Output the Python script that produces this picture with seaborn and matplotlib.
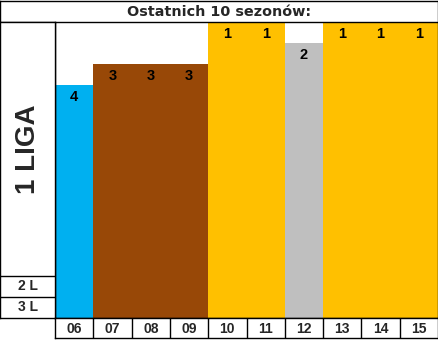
import matplotlib
matplotlib.use("Agg")
import matplotlib.pyplot as plt
import seaborn as sns
import pandas as pd

seasons = ["06", "07", "08", "09", "10", "11", "12", "13", "14", "15"]
places = [4, 3, 3, 3, 1, 1, 2, 1, 1, 1]
colors = ["#00B0F0", "#984807", "#984807", "#984807", "#FFC000", "#FFC000",
          "#BFBFBF", "#FFC000", "#FFC000", "#FFC000"]
league_labels = ["1 LIGA", "2 L", "3 L"]
title = "Ostatnich 10 sezonów:"
levels = 14  # 12 positions in 1 LIGA + 2 L + 3 L rows

sns.set_theme(style="white")
plt.rcParams['font.family'] = ['Liberation Sans', 'DejaVu Sans']

W, H = 439, 340
fig = plt.figure(figsize=(W / 100, H / 100), dpi=100)
fig.patch.set_facecolor("white")

def px(x0, y0, x1, y1):
    # pixel box (top-left origin) -> figure fraction
    return [x0 / W, 1 - y1 / H, (x1 - x0) / W, (y1 - y0) / H]

df = pd.DataFrame({"season": seasons,
                   "height": [levels + 1 - p for p in places],
                   "place": places})

# main bar area
ax = fig.add_axes(px(55, 22, 438, 318))
sns.barplot(data=df, x="season", y="height", hue="season", palette=colors,
            width=1.0, legend=False, ax=ax, saturation=1, linewidth=0)
ax.set_xlim(-0.5, len(seasons) - 0.5)
ax.set_ylim(0, levels)
ax.set_xticks([]); ax.set_yticks([])
ax.set_xlabel(""); ax.set_ylabel("")
for s in ["left", "right", "bottom"]:
    ax.spines[s].set_visible(True)
    ax.spines[s].set_color("black")
    ax.spines[s].set_linewidth(1)
ax.spines["top"].set_visible(False)
for i, (h, p) in enumerate(zip(df["height"], places)):
    ax.annotate(str(p), (i, h), xytext=(0, -3.5), textcoords="offset points",
                ha="center", va="top", fontsize=10.5, fontweight="bold", color="black")

# title box
axt = fig.add_axes(px(0.5, 0.5, 438, 22))
axt.set_xticks([]); axt.set_yticks([])
for s in axt.spines.values():
    s.set_color("black"); s.set_linewidth(1); s.set_visible(True)
axt.text(0.5, 0.45, title, ha="center", va="center", fontsize=10.4,
         fontweight="bold", family=["DejaVu Sans"], transform=axt.transAxes)

# left league panel
axl = fig.add_axes(px(0.5, 22, 55, 318))
axl.set_xlim(0, 1); axl.set_ylim(0, levels)
axl.set_xticks([]); axl.set_yticks([])
for s in axl.spines.values():
    s.set_color("black"); s.set_linewidth(1); s.set_visible(True)
axl.axhline(1, color="black", lw=1)
axl.axhline(2, color="black", lw=1)
axl.text(0.5, 8.0, league_labels[0], rotation=90, ha="center", va="center",
         fontsize=20, fontweight="bold")
axl.text(0.5, 1.5, league_labels[1], ha="center", va="center", fontsize=10, fontweight="bold")
axl.text(0.5, 0.5, league_labels[2], ha="center", va="center", fontsize=10, fontweight="bold")

# season label row
axs = fig.add_axes(px(55, 318, 438, 338))
axs.set_xlim(-0.5, len(seasons) - 0.5); axs.set_ylim(0, 1)
axs.set_xticks([]); axs.set_yticks([])
for s in axs.spines.values():
    s.set_color("black"); s.set_linewidth(1); s.set_visible(True)
for i, s in enumerate(seasons):
    axs.text(i, 0.45, s, ha="center", va="center", fontsize=10, fontweight="bold")
    if i > 0:
        axs.axvline(i - 0.5, color="black", lw=1)

fig.savefig("out.png", dpi=100)
